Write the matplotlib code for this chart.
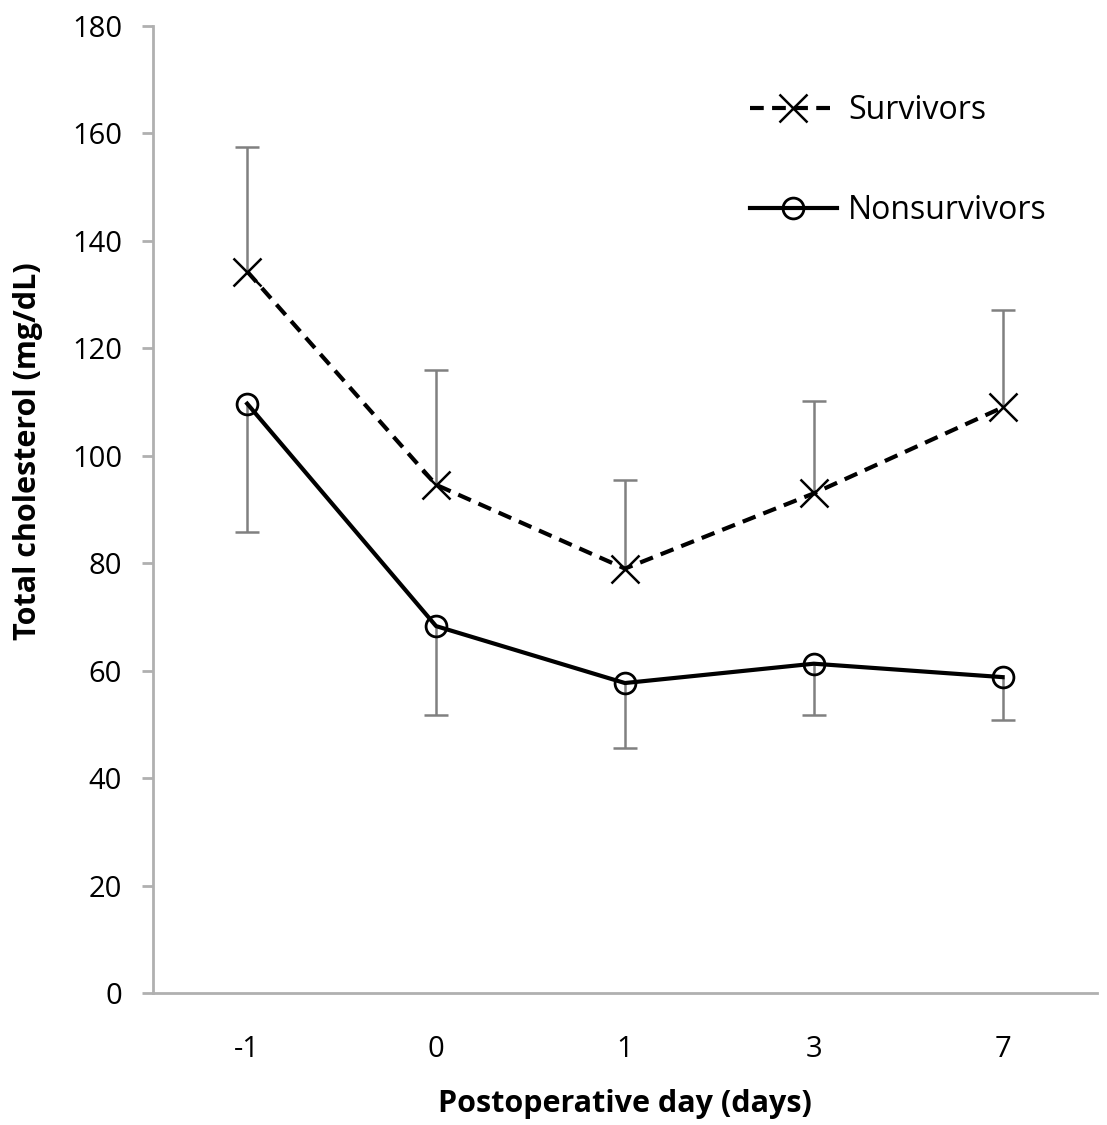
import matplotlib
matplotlib.use("Agg")
from matplotlib import pyplot as plt
import numpy as np

days = ['-1', '0', '1', '3', '7']
survivors = [134.3, 94.6, 79.0, 93.0, 109.0]
survivors_upper = [157.5, 116.0, 95.5, 110.2, 127.2]
nonsurvivors = [109.7, 68.3, 57.7, 61.3, 58.8]
nonsurvivors_lower = [85.8, 51.8, 45.6, 51.8, 50.8]

plt.rcParams['font.family'] = ['Open Sans', 'DejaVu Sans']

fig = plt.figure(figsize=(11.07, 11.25), dpi=100)
ax = fig.add_axes([0.138, 0.1173, 0.853, 0.8596])

x = np.arange(len(days))
err_col = '#808080'

# one-sided error bars (caps only at the far end)
ax.vlines(x, survivors, survivors_upper, color=err_col, lw=1.8, zorder=1)
ax.plot(x, survivors_upper, ls='none', marker='_', ms=17, mew=1.8, color=err_col, zorder=1)
ax.vlines(x, nonsurvivors_lower, nonsurvivors, color=err_col, lw=1.8, zorder=1)
ax.plot(x, nonsurvivors_lower, ls='none', marker='_', ms=17, mew=1.8, color=err_col, zorder=1)

ax.plot(x, survivors, color='black', ls=(0, (3.3, 2)), lw=3, marker='x', ms=20,
        mew=1.8, mec='black', label='Survivors', zorder=3)
ax.plot(x, nonsurvivors, color='black', ls='-', lw=3, marker='o', ms=15, mfc='none',
        mew=2, mec='black', label='Nonsurvivors', zorder=3)

ax.set_xlim(-0.5, 4.5)
ax.set_ylim(0, 180)
ax.set_xticks(x)
ax.set_xticklabels(days)
ax.set_yticks(np.arange(0, 181, 20))

for side in ['top', 'right']:
    ax.spines[side].set_visible(False)
for side in ['left', 'bottom']:
    ax.spines[side].set_color('#b0b0b0')
    ax.spines[side].set_linewidth(2)
ax.tick_params(axis='y', length=8, width=2, color='#b0b0b0', labelsize=21, pad=14)
ax.tick_params(axis='x', length=0, labelsize=21, pad=30)

ax.set_xlabel('Postoperative day (days)', fontsize=22, fontweight='bold', labelpad=18)
ax.set_ylabel('Total cholesterol (mg/dL)', fontsize=22, fontweight='bold')
ax.yaxis.set_label_coords(-0.116, 0.56)

ax.legend(loc='upper left', bbox_to_anchor=(0.632, 0.93), frameon=False,
          fontsize=23, handlelength=2.75, labelspacing=2.1, handletextpad=0.33,
          borderpad=0, borderaxespad=0)

fig.savefig('out.png', dpi=100)
